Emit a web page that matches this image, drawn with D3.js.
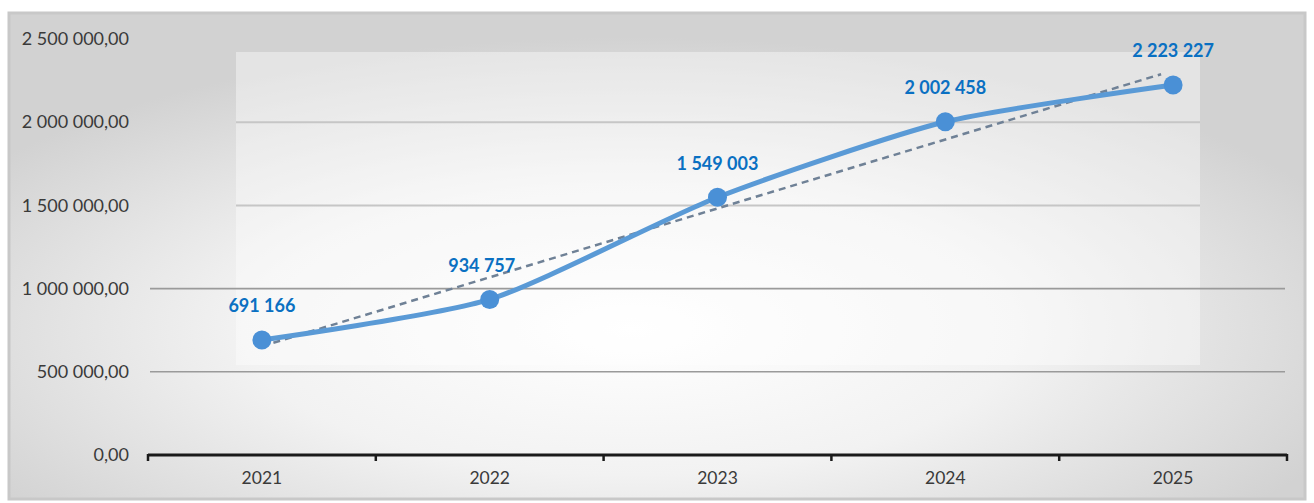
<!DOCTYPE html>
<html><head><meta charset="utf-8">
<script src="https://cdn.jsdelivr.net/npm/d3@7"></script>
<style>html,body{margin:0;padding:0;background:#fff;}svg{display:block;}</style>
</head><body>
<svg id="c" width="1314" height="503"></svg>
<script>
const years = ["2021","2022","2023","2024","2025"];
const values = [691166, 934757, 1549003, 2002458, 2223227];
const yTicks = [0, 500000, 1000000, 1500000, 2000000, 2500000];

const W = 1314, H = 503;
const svg = d3.select("#c");
const defs = svg.append("defs");
const rg = defs.append("radialGradient").attr("id","bg").attr("cx","48%").attr("cy","65%").attr("r","60%");
rg.append("stop").attr("offset","0%").attr("stop-color","#ffffff");
rg.append("stop").attr("offset","50%").attr("stop-color","#f2f2f2");
rg.append("stop").attr("offset","100%").attr("stop-color","#d2d2d2");

svg.append("rect").attr("x",0).attr("y",0).attr("width",W).attr("height",H).attr("fill","#fff");
svg.append("rect").attr("x",9).attr("y",13).attr("width",1296).attr("height",486)
  .attr("fill","url(#bg)").attr("stroke","#c8c8c8").attr("stroke-width",3);
// lighter plot-area panel
svg.append("rect").attr("x",236).attr("y",52).attr("width",964).attr("height",313)
  .attr("fill","#ffffff").attr("opacity",0.4);

const loc = d3.formatLocale({decimal:",", thousands:"\u00a0", grouping:[3], currency:["",""]});
const fAxis = loc.format(",.2f");
const fLab = loc.format(",.0f");

const x = d3.scaleBand().domain(years).range([148, 1287]).padding(0);
const y = d3.scaleLinear().domain([0, 2500000]).range([455, 39]);
const cx = d => x(d) + x.bandwidth()/2;

// gridlines
const grid = svg.append("g");
yTicks.filter(t => t > 0 && t < 2500000).forEach(t => {
  const light = t >= 1500000;
  grid.append("line")
    .attr("x1", light ? 236 : 150).attr("x2", light ? 1200 : 1285)
    .attr("y1", y(t)).attr("y2", y(t))
    .attr("stroke", light ? "#c6c6c6" : "#9a9a9a").attr("stroke-width", light ? 2 : 1.6);
});

// y axis labels
const ya = svg.append("g").attr("transform","translate(148,0)")
  .call(d3.axisLeft(y).tickValues(yTicks).tickFormat(fAxis).tickSize(0).tickPadding(19));
ya.select(".domain").remove();
ya.selectAll("text").attr("font-family","Lato, 'Open Sans', sans-serif").attr("font-size",18)
  .attr("fill","#3a3a3a").attr("dy","0.32em");

// x axis
const xa = svg.append("g").attr("transform","translate(0,455)")
  .call(d3.axisBottom(x).tickSize(0).tickPadding(17));
xa.select(".domain").remove();
xa.selectAll("text").attr("font-family","Lato, 'Open Sans', sans-serif").attr("font-size",17.5)
  .attr("fill","#3a3a3a");
svg.append("line").attr("x1",148).attr("x2",1287).attr("y1",y(0)).attr("y2",y(0))
  .attr("stroke","#1a1a1a").attr("stroke-width",3);
const tickXs = years.map(d => x(d)).concat([x(years[years.length-1]) + x.bandwidth()]);
svg.append("g").selectAll("line").data(tickXs).join("line")
  .attr("x1", d=>d).attr("x2", d=>d).attr("y1", y(0)-1).attr("y2", y(0)+6)
  .attr("stroke","#1a1a1a").attr("stroke-width",2.5);

// linear trendline (least squares over category index)
const n = values.length;
const mx = (n-1)/2, my = d3.mean(values);
let sxy = 0, sxx = 0;
values.forEach((v,i) => { sxy += (i-mx)*(v-my); sxx += (i-mx)*(i-mx); });
const slope = sxy/sxx, icpt = my - slope*mx;
svg.append("line")
  .attr("x1", cx(years[0])).attr("y1", y(icpt))
  .attr("x2", cx(years[n-1]) - 12).attr("y2", y(icpt + slope*(n-1)) + 3)
  .attr("stroke","#6f8196").attr("stroke-width",2.5).attr("stroke-dasharray","7,5");

// smoothed series line
const pts = years.map((d,i) => [cx(d), y(values[i])]);
svg.append("path").datum(pts)
  .attr("d", d3.line().curve(d3.curveCardinal.tension(0.35)))
  .attr("fill","none").attr("stroke","#5a9ad6").attr("stroke-width",5).attr("stroke-linecap","round");
svg.append("g").selectAll("circle").data(pts).join("circle")
  .attr("cx", d=>d[0]).attr("cy", d=>d[1]).attr("r",9.5).attr("fill","#4a90d6");

// data labels
svg.append("g").selectAll("text").data(years).join("text")
  .attr("x", (d,i) => cx(d) - (i===1 ? 8 : 0)).attr("y", (d,i) => y(values[i]) - 34)
  .attr("dy","0.35em").attr("text-anchor","middle")
  .attr("font-family","Lato, 'Open Sans', sans-serif").attr("font-weight","bold").attr("font-size",18)
  .attr("fill","#0a70c2").text((d,i) => fLab(values[i]));
</script>
</body></html>
